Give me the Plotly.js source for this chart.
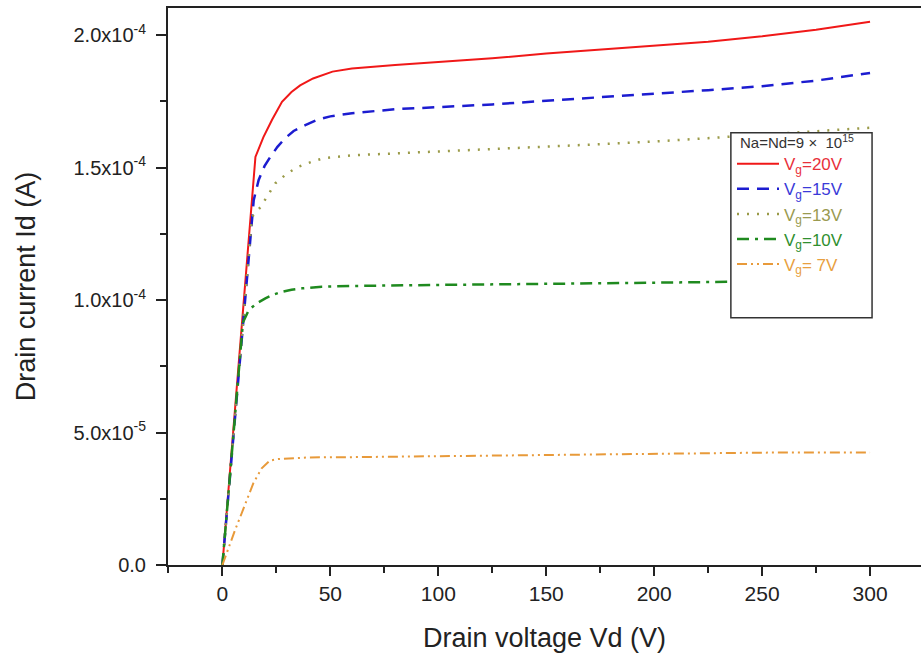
<!DOCTYPE html>
<html>
<head>
<meta charset="utf-8">
<script src="https://cdn.plot.ly/plotly-3.0.1.min.js"></script>
<style>
  html, body { margin: 0; padding: 0; background: #fff; overflow: hidden; }
  #chart { width: 921px; height: 657px; }
</style>
</head>
<body>
<div id="chart"></div>
<script>
// Drain voltage (V) and drain current (units of 1e-4 A) for each gate voltage
const vd20 = [0, 5, 10, 15.3, 19, 23, 27.6, 32, 36, 42, 51, 60, 80, 100, 125, 150, 175, 200, 225, 250, 275, 300];
const id20 = [0, 0.50, 1.0, 1.54, 1.615, 1.68, 1.748, 1.785, 1.81, 1.836, 1.862, 1.874, 1.887, 1.897, 1.912, 1.93, 1.945, 1.96, 1.975, 1.995, 2.02, 2.05];

const vd15 = [0, 5, 10, 14.5, 16.8, 19.5, 22.2, 25.5, 29, 33, 38.4, 44, 50, 60, 80, 100, 125, 150, 175, 200, 225, 250, 275, 300];
const id15 = [0, 0.475, 0.95, 1.377, 1.453, 1.505, 1.54, 1.578, 1.61, 1.638, 1.66, 1.68, 1.693, 1.705, 1.72, 1.727, 1.738, 1.752, 1.765, 1.777, 1.792, 1.807, 1.828, 1.857];

const vd13 = [0, 5, 10, 13.7, 17.6, 20.7, 24.5, 30, 35.3, 41.5, 46.9, 60, 80, 100, 125, 150, 175, 200, 225, 250, 275, 300];
const id13 = [0, 0.48, 0.96, 1.314, 1.35, 1.392, 1.44, 1.478, 1.503, 1.522, 1.535, 1.546, 1.553, 1.56, 1.568, 1.578, 1.588, 1.598, 1.611, 1.622, 1.635, 1.65];

const vd10 = [0, 5, 9.5, 12.2, 16, 19.9, 23.5, 27.6, 32, 36.9, 46, 60, 80, 100, 150, 200, 226, 250, 275, 300];
const id10 = [0, 0.48, 0.915, 0.962, 0.988, 1.006, 1.02, 1.031, 1.039, 1.044, 1.05, 1.053, 1.056, 1.057, 1.061, 1.066, 1.069, 1.07, 1.071, 1.072];

const vd7 = [0, 3, 6, 8.3, 11.3, 14.3, 18.2, 22, 26, 31, 40, 60, 82, 100, 150, 200, 226, 250, 275, 300];
const id7 = [0, 0.07, 0.135, 0.182, 0.245, 0.308, 0.365, 0.394, 0.4, 0.403, 0.406, 0.407, 0.409, 0.41, 0.415, 0.42, 0.424, 0.424, 0.425, 0.425];

const seriesNames = ['V<sub>g</sub>=20V', 'V<sub>g</sub>=15V', 'V<sub>g</sub>=13V', 'V<sub>g</sub>=10V', 'V<sub>g</sub>= 7V'];
const legendTitle = 'Na=Nd=9 \u00d7  10<sup>15</sup>';

const yTickVals = [0, 5e-5, 1e-4, 1.5e-4, 2e-4];
const yTickText = ['0.0', '5.0x10<sup>-5</sup>', '1.0x10<sup>-4</sup>', '1.5x10<sup>-4</sup>', '2.0x10<sup>-4</sup>'];
const xTickVals = [0, 50, 100, 150, 200, 250, 300];
const xTickText = ['0', '50', '100', '150', '200', '250', '300'];

const scale = v => v * 1e-4;

const styles = [
  {color: '#f01818', dash: 'solid', width: 2, text: '#e8303a'},
  {color: '#1c1cd0', dash: '12px,8px', width: 2.5, text: '#3a3ad8'},
  {color: '#9a9a48', dash: '2px,8px', width: 2.5, text: '#9a9a50'},
  {color: '#1f8a1f', dash: '12px,6px,3px,6px', width: 2.5, text: '#2f8f2f'},
  {color: '#e89a3a', dash: '10px,4px,2px,4px,2px,4px', width: 2, text: '#e8a040'}
];

const xs = [vd20, vd15, vd13, vd10, vd7];
const ys = [id20, id15, id13, id10, id7];

const traces = xs.map((x, i) => ({
  type: 'scatter',
  mode: 'lines',
  x: x,
  y: ys[i].map(scale),
  name: '<span style="color:' + styles[i].text + '">' + seriesNames[i] + '</span>',
  line: {color: styles[i].color, dash: styles[i].dash, width: styles[i].width}
}));

const fontFam = '"Liberation Sans", Arial, sans-serif';

const layout = {
  width: 921,
  height: 657,
  margin: {l: 168, r: 0, t: 8, b: 92},
  paper_bgcolor: '#fff',
  plot_bgcolor: '#fff',
  font: {family: fontFam, color: '#222'},
  showlegend: true,
  legend: {
    x: 0.749, y: 0.752, xanchor: 'left', yanchor: 'top',
    bgcolor: 'rgba(255,255,255,0)',
    borderwidth: 0,
    itemwidth: 42,
    font: {family: fontFam, size: 17, color: '#333'},
    tracegroupgap: 0
  },
  annotations: [{
    text: legendTitle, xref: 'paper', yref: 'paper',
    x: 0.757, y: 0.761, xanchor: 'left', yanchor: 'middle', showarrow: false,
    font: {family: fontFam, size: 15, color: '#333'}
  }],
  shapes: [{
    type: 'rect', xref: 'paper', yref: 'paper',
    x0: 0.7475, x1: 0.935, y0: 0.444, y1: 0.776,
    fillcolor: '#fff', line: {color: '#333', width: 1.5}, layer: 'above'
  }],
  xaxis: {
    range: [-25.2, 323.6],
    showgrid: false, zeroline: false,
    showline: true, linecolor: '#222', linewidth: 2, mirror: true,
    ticks: 'outside', ticklen: 9, tickwidth: 2, tickcolor: '#222',
    tickmode: 'array', tickvals: xTickVals, ticktext: xTickText,
    tickfont: {family: fontFam, size: 21, color: '#222'},
    minor: {tickmode: 'linear', tick0: -25, dtick: 50, ticklen: 6, tickwidth: 2, tickcolor: '#222', ticks: 'outside'},
    title: {text: 'Drain voltage Vd (V)', font: {family: fontFam, size: 27, color: '#222'}, standoff: 24}
  },
  yaxis: {
    range: [0, 2.102e-4],
    showgrid: false, zeroline: false,
    showline: true, linecolor: '#222', linewidth: 2, mirror: false,
    ticks: 'outside', ticklen: 10, tickwidth: 2, tickcolor: '#222',
    ticklabelstandoff: 6,
    tickmode: 'array', tickvals: yTickVals, ticktext: yTickText,
    tickfont: {family: fontFam, size: 20, color: '#222'},
    minor: {tickmode: 'linear', tick0: 2.5e-5, dtick: 5e-5, ticklen: 6, tickwidth: 2, tickcolor: '#222', ticks: 'outside'},
    title: {text: 'Drain current Id (A)', font: {family: fontFam, size: 27, color: '#222'}, standoff: 30}
  }
};

Plotly.newPlot('chart', traces, layout, {displayModeBar: false, staticPlot: true});
</script>
</body>
</html>
